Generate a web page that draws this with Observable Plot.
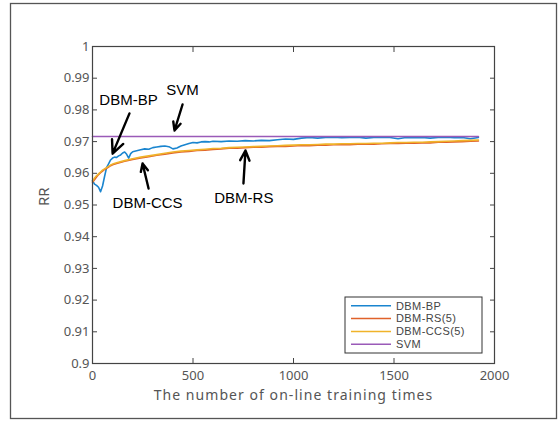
<!DOCTYPE html>
<html>
<head>
<meta charset="utf-8">
<script src="https://cdn.jsdelivr.net/npm/d3@7"></script>
<script src="https://cdn.jsdelivr.net/npm/@observablehq/plot@0.6"></script>
<style>
  html, body { margin: 0; padding: 0; background: #fff; }
  #chart { width: 559px; height: 423px; }
</style>
</head>
<body>
<div id="chart"></div>
<script>
// ---- data ----
const bpXs = [0,10,20,30,40,50,60,70,80,90,100,110,120,130,140,150,160,170,180,190,200,220,240,260,280,300,320,340,360,380,400,420,440,460,480,500,520,540,560,580,600,640,680,720,760,800,840,880,920,960,1000,1040,1080,1120,1160,1200,1240,1280,1320,1360,1400,1440,1480,1520,1560,1600,1640,1680,1720,1760,1800,1840,1880,1920];
const bpVals = [0.9577,0.9566,0.9562,0.9556,0.9542,0.9560,0.9590,0.9618,0.9630,0.9642,0.9648,0.9651,0.9650,0.9655,0.9658,0.9664,0.9667,0.9660,0.9648,0.9662,0.9668,0.9671,0.9674,0.9677,0.9676,0.9681,0.9683,0.9685,0.9686,0.9684,0.9677,0.9680,0.9686,0.9690,0.9694,0.9697,0.9696,0.9699,0.9700,0.9699,0.9701,0.9700,0.9702,0.9701,0.9703,0.9702,0.9704,0.9703,0.9706,0.9708,0.9707,0.9711,0.9713,0.9711,0.9713,0.9714,0.9712,0.9713,0.9714,0.9711,0.9713,0.9714,0.9713,0.9709,0.9713,0.9712,0.9713,0.9711,0.9713,0.9714,0.9712,0.9713,0.9709,0.9713];

const xs = [0,10,20,30,40,50,60,70,80,90,100,120,160,200,240,280,320,360,400,440,480,520,560,600,640,680,720,760,800,840,880,920,960,1000,1040,1080,1120,1160,1200,1240,1280,1320,1360,1400,1440,1480,1520,1560,1600,1640,1680,1720,1760,1800,1840,1880,1920];
const rsVals = [0.9572,0.9580,0.9588,0.9596,0.9602,0.9607,0.9612,0.9616,0.9620,0.9624,0.9627,0.9631,0.9638,0.9644,0.9648,0.9652,0.9657,0.9660,0.9664,0.9667,0.9669,0.9672,0.9673,0.9675,0.9677,0.9679,0.9679,0.9681,0.9682,0.9682,0.9684,0.9685,0.9685,0.9686,0.9688,0.9687,0.9689,0.9689,0.9690,0.9691,0.9690,0.9692,0.9692,0.9692,0.9693,0.9694,0.9694,0.9695,0.9695,0.9696,0.9696,0.9698,0.9698,0.9699,0.9700,0.9701,0.9702];
const ccsVals = [0.9575,0.9585,0.9592,0.9598,0.9604,0.9610,0.9614,0.9618,0.9622,0.9626,0.9629,0.9633,0.9640,0.9646,0.9651,0.9655,0.9659,0.9663,0.9667,0.9670,0.9672,0.9674,0.9676,0.9678,0.9679,0.9681,0.9682,0.9683,0.9684,0.9685,0.9686,0.9687,0.9688,0.9689,0.9690,0.9690,0.9691,0.9692,0.9692,0.9693,0.9693,0.9694,0.9694,0.9695,0.9695,0.9696,0.9697,0.9697,0.9698,0.9698,0.9699,0.9700,0.9701,0.9702,0.9703,0.9704,0.9705];
const svmXs = [0, 1920];
const svmVals = [0.9716, 0.9716];

const seriesNames = ["DBM-BP", "DBM-RS(5)", "DBM-CCS(5)", "SVM"];
const seriesColors = ["#1a85cf", "#e0622a", "#f0b32a", "#9a5ab8"];

const xTicks = [0, 500, 1000, 1500, 2000];
const yTicks = [0.9, 0.91, 0.92, 0.93, 0.94, 0.95, 0.96, 0.97, 0.98, 0.99, 1];

// annotations: label position and arrow (tail -> head), in data units
const annLabels = [
  {text: "DBM-BP",  x: 179, y: 0.9830},
  {text: "SVM",     x: 448, y: 0.9861},
  {text: "DBM-CCS", x: 274, y: 0.9505},
  {text: "DBM-RS",  x: 753, y: 0.9520}
];
const annArrows = [
  {x1: 184, y1: 0.9789, x2: 100, y2: 0.9662},
  {x1: 448, y1: 0.9817, x2: 408, y2: 0.9735},
  {x1: 279, y1: 0.9552, x2: 249, y2: 0.9631},
  {x1: 751, y1: 0.9568, x2: 761, y2: 0.9672}
];

// ---- build table ----
const seriesData = [[bpXs, bpVals], [xs, rsVals], [xs, ccsVals], [svmXs, svmVals]];
const rows = [];
seriesData.forEach(([sx, sv], si) => {
  sx.forEach((x, i) => rows.push({series: seriesNames[si], x, y: sv[i]}));
});

const tickFont = "'Noto Sans', 'DejaVu Sans', sans-serif";
const fmtY = d => String(+d.toFixed(2));

const plot = Plot.plot({
  width: 559,
  height: 423,
  marginLeft: 92,
  marginRight: 65,
  marginTop: 46,
  marginBottom: 60,
  style: {fontFamily: tickFont, fontSize: "13px", color: "#555", background: "transparent"},
  x: {domain: [0, 2000]},
  y: {domain: [0.9, 1]},
  color: {domain: seriesNames, range: seriesColors},
  marks: [
    Plot.axisX({anchor: "bottom", ticks: xTicks, tickSize: -5, tickPadding: 12, tickFormat: d => String(d), label: null, stroke: "#444"}),
    Plot.axisX({anchor: "top", ticks: xTicks, tickSize: -5, tickFormat: () => "", label: null, stroke: "#444"}),
    Plot.axisY({anchor: "left", ticks: yTicks, tickSize: -5, tickPadding: 8, tickFormat: fmtY, label: null, stroke: "#444"}),
    Plot.axisY({anchor: "right", ticks: yTicks, tickSize: -5, tickFormat: () => "", label: null, stroke: "#444"}),
    Plot.lineY(rows, {x: "x", y: "y", z: "series", stroke: "series", strokeWidth: 1.6}),
    Plot.frame({stroke: "#444", strokeWidth: 1.2}),
    Plot.arrow(annArrows, {x1: "x1", y1: "y1", x2: "x2", y2: "y2", stroke: "#000", strokeWidth: 2.4, headLength: 9, headAngle: 50}),
    Plot.text(annLabels, {x: "x", y: "y", text: "text", fill: "#000", fontSize: 15, fontFamily: "'Liberation Sans', Arial, sans-serif"}),
    Plot.text(["The number of on-line training times"], {frameAnchor: "bottom", lineAnchor: "middle", dy: 32, fontSize: 14, fill: "#555", fontFamily: tickFont}),
    Plot.text(["RR"], {frameAnchor: "left", dx: -48, dy: 1, rotate: -90, fontSize: 15, fill: "#555", fontFamily: tickFont})
  ]
});

document.getElementById("chart").appendChild(plot);

// widen the x-axis title spacing to match the reference
d3.select(plot).selectAll("text")
  .filter(function () { return this.textContent === "The number of on-line training times"; })
  .attr("letter-spacing", "1.05px");

// outer figure border and legend box (layout only)
const svg = d3.select(plot);
svg.append("rect")
  .attr("x", 10.5).attr("y", 3.5).attr("width", 546).attr("height", 415)
  .attr("fill", "none").attr("stroke", "#555").attr("stroke-width", 1.3);

const lg = svg.append("g").attr("transform", "translate(345,297)");
lg.append("rect").attr("width", 137).attr("height", 56)
  .attr("fill", "#fff").attr("stroke", "#333").attr("stroke-width", 1);
seriesNames.forEach((name, i) => {
  const yy = 8.8 + i * 12.8;
  lg.append("line").attr("x1", 6).attr("x2", 46).attr("y1", yy).attr("y2", yy)
    .attr("stroke", seriesColors[i]).attr("stroke-width", 1.5);
  lg.append("text").attr("x", 51).attr("y", yy).attr("dy", "0.35em")
    .attr("text-anchor", "start")
    .attr("fill", "#444").attr("font-size", 11).attr("letter-spacing", "0.4px")
    .attr("font-family", "'Liberation Sans', Arial, sans-serif")
    .text(name);
});
</script>
</body>
</html>
